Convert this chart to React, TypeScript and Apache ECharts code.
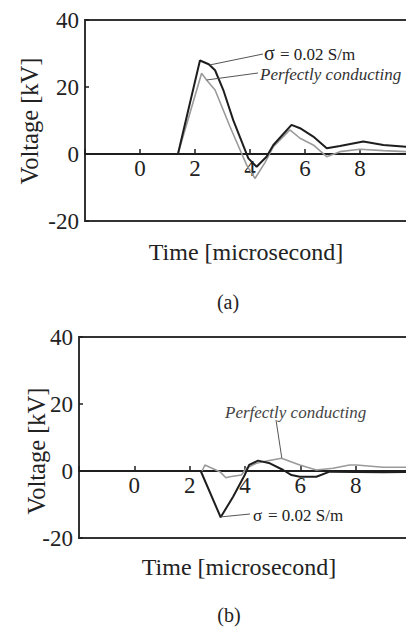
import React, { useEffect, useRef } from "react";
import * as echarts from "echarts";

// Panel (a)
const aSigmaT = [1.38, 2.18, 2.5, 2.73, 3.03, 3.39, 3.94, 4.24, 4.6, 4.85, 5.51, 5.82, 6.3, 6.79, 7.27, 8.12, 8.85, 9.67, 10];
const aSigmaV = [0, 27.9, 26.8, 25, 19.1, 10.1, -1.3, -3.8, -0.8, 2.7, 8.7, 7.7, 5.2, 1.7, 2.4, 3.7, 2.7, 2.2, 2.1];
const aPerfT = [1.38, 2.24, 2.42, 2.73, 3.27, 3.64, 3.88, 4.18, 4.55, 4.85, 5.45, 5.82, 6.3, 6.79, 7.27, 8.0, 8.85, 9.67, 10];
const aPerfV = [0, 24.1, 22.1, 19.1, 8.2, 1.2, -3.3, -7.3, -2.5, 2.2, 7.2, 4.7, 2.7, -0.8, 0.7, 1.4, 1.0, 0.7, 0.6];

// Panel (b)
const bSigmaT = [2.4, 3.12, 3.57, 3.99, 4.15, 4.47, 4.9, 5.38, 5.68, 5.98, 6.58, 7.06, 8.0, 9.0, 10];
const bSigmaV = [0, -13.8, -7.7, -1.2, 1.8, 3.1, 2.3, 0.3, -1.2, -1.7, -1.7, -0.2, -0.3, -0.4, -0.3];
const bPerfT = [2.45, 2.55, 2.73, 3.09, 3.31, 3.45, 3.87, 4.05, 4.41, 4.78, 5.32, 5.98, 6.58, 7.18, 7.78, 8.03, 8.99, 9.8, 10];
const bPerfV = [0, 1.8, 1.1, -0.2, -2.0, -1.7, -1.2, 0.8, 2.3, 3.0, 3.8, 1.8, 0.3, 0.8, 1.8, 1.8, 1.1, 1.1, 1.1];

const xTicks = [0, 2, 4, 6, 8];
const yTicks = [-20, 0, 20, 40];
const Y_MIN = -20;
const Y_MAX = 40;

const FONT = "Liberation Serif";
const DARK = "#1e1e1e";
const GRAY = "#9a9a9a";
const FRAME = "#333";
const GRID_H = 201;

const zip = (t: number[], v: number[]) => t.map((x, i) => [x, v[i]]);

function xAxis(gridIndex: number) {
  // put the axis (line, ticks, labels) on the zero level of the y scale
  const zeroFromBottom = (GRID_H * (0 - Y_MIN)) / (Y_MAX - Y_MIN);
  return {
    type: "value",
    gridIndex,
    min: -2,
    max: 10,
    interval: 2,
    position: "bottom",
    offset: -zeroFromBottom,
    axisLine: { show: true, onZero: false, lineStyle: { color: DARK, width: 2 } },
    axisTick: { show: true, inside: true, length: 5, lineStyle: { color: DARK, width: 1.5 } },
    axisLabel: {
      margin: 3,
      fontFamily: FONT,
      fontSize: 23,
      color: "#222",
      formatter: (v: number) => (xTicks.includes(v) ? String(v) : ""),
    },
    splitLine: { show: false },
  };
}

function yAxis(gridIndex: number) {
  return {
    type: "value",
    gridIndex,
    min: Y_MIN,
    max: Y_MAX,
    interval: 20,
    position: "left",
    axisLine: { show: true, onZero: false, lineStyle: { color: FRAME, width: 2 } },
    axisTick: { show: true, inside: true, length: 4, lineStyle: { color: DARK, width: 1.5 } },
    axisLabel: {
      margin: 6,
      fontFamily: FONT,
      fontSize: 23,
      color: "#222",
      formatter: (v: number) => (yTicks.includes(v) ? String(v) : ""),
    },
    splitLine: { show: false },
  };
}

export default function App() {
  const ref = useRef<HTMLDivElement>(null);
  useEffect(() => {
    if (!ref.current) return;
    const chart = echarts.init(ref.current, undefined, { renderer: "svg" });
    chart.setOption({
      animation: false,
      backgroundColor: "#fff",
      grid: [
        { left: 85, top: 20, width: 330, height: GRID_H, show: true, borderColor: FRAME, borderWidth: 2 },
        { left: 79, top: 337, width: 332, height: GRID_H, show: true, borderColor: FRAME, borderWidth: 2 },
      ],
      xAxis: [xAxis(0), xAxis(1)],
      yAxis: [yAxis(0), yAxis(1)],
      series: [
        { name: "Perfectly conducting", type: "line", xAxisIndex: 0, yAxisIndex: 0, data: zip(aPerfT, aPerfV), showSymbol: false, lineStyle: { color: GRAY, width: 1.6 }, z: 3 },
        { name: "σ = 0.02 S/m", type: "line", xAxisIndex: 0, yAxisIndex: 0, data: zip(aSigmaT, aSigmaV), showSymbol: false, lineStyle: { color: DARK, width: 2 }, z: 4 },
        { name: "Perfectly conducting", type: "line", xAxisIndex: 1, yAxisIndex: 1, data: zip(bPerfT, bPerfV), showSymbol: false, lineStyle: { color: GRAY, width: 1.6 }, z: 3 },
        { name: "σ = 0.02 S/m", type: "line", xAxisIndex: 1, yAxisIndex: 1, data: zip(bSigmaT, bSigmaV), showSymbol: false, lineStyle: { color: DARK, width: 2 }, z: 4 },
      ],
    });

    const p = (g: number, d: number[]) => chart.convertToPixel({ gridIndex: g }, d) as number[];
    const leader = (a: number[], b: number[]) => ({
      type: "line",
      shape: { x1: a[0], y1: a[1], x2: b[0], y2: b[1] },
      style: { stroke: "#555", lineWidth: 1 },
      z: 10,
    });
    const txt = (x: number, y: number, text: string, size: number, extra: any = {}) => ({
      type: "text",
      x,
      y,
      z: 10,
      style: { text, fontFamily: FONT, fontSize: size, fill: "#222", align: "left", verticalAlign: "middle", ...extra },
    });

    chart.setOption({
      graphic: [
        txt(29, 121, "Voltage [kV]", 24.5, { align: "center" }),
        txt(36, 451, "Voltage [kV]", 24.5, { align: "center" }),
        txt(246, 252, "Time [microsecond]", 24, { align: "center" }),
        txt(239, 567, "Time [microsecond]", 24, { align: "center" }),
        txt(228, 302, "(a)", 20, { align: "center" }),
        txt(229, 615, "(b)", 20, { align: "center" }),
        txt(264, 53, "σ", 20),
        txt(280, 54, "= 0.02 S/m", 17),
        txt(260, 74, "Perfectly conducting", 17, { fontStyle: "italic", fill: "#333" }),
        txt(225, 412, "Perfectly conducting", 17, { fontStyle: "italic", fill: "#444" }),
        txt(253, 515, "σ", 17),
        txt(268, 515, "= 0.02 S/m", 17),
        leader(p(0, [2.55, 26.6]), [263, 54]),
        leader(p(0, [2.43, 22.1]), [258, 73]),
        leader([276, 420], p(1, [5.33, 3.9])),
        leader(p(1, [3.13, -13.7]), [250, 514]),
      ].map((g: any, i: number) => (i < 2 ? { ...g, rotation: Math.PI / 2 } : g)),
    });

    return () => chart.dispose();
  }, []);

  return (
    <div style={{ position: "fixed", left: 0, top: 0, width: 406, height: 627, overflow: "hidden", background: "#fff" }}>
      <div ref={ref} style={{ width: 420, height: 627 }} />
    </div>
  );
}
